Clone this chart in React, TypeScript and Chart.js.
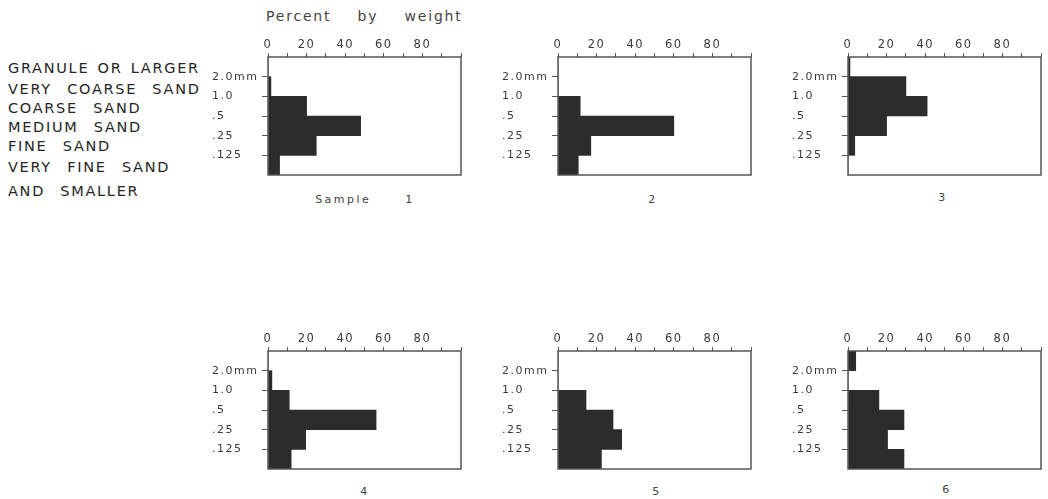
import React, { useEffect, useRef } from 'react';
import { Chart, registerables } from 'chart.js';

Chart.register(...registerables);

// ---- data ----
const sizeClasses = [
  'GRANULE OR LARGER',
  'VERY COARSE SAND',
  'COARSE SAND',
  'MEDIUM SAND',
  'FINE SAND',
  'VERY FINE SAND AND SMALLER',
];
const boundaryLabels = ['2.0mm', '1.0', '.5', '.25', '.125'];
const xTickLabels = [0, 20, 40, 60, 80];
const sampleNames = ['Sample 1', '2', '3', '4', '5', '6'];

const sample1 = [0, 1.5, 20, 48, 25, 6];
const sample2 = [0, 0, 11.5, 60, 17, 10.5];
const sample3 = [1, 30, 41, 20, 3.5, 0];
const sample4 = [0, 2, 11, 56, 19.5, 12];
const sample5 = [0, 0, 14.5, 28.5, 33, 22.5];
const sample6 = [4, 0, 16, 29, 20.5, 29];
const samples = [sample1, sample2, sample3, sample4, sample5, sample6];

// ---- layout ----
const BOX_W = 193;
const BOX_H = 118;
const AXW = 56;
const AXH = 24;
const PADR = 4;
const PADB = 3;
const boxLefts = [268, 558, 848, 268, 558, 848];
const boxTops = [57, 57, 57, 351, 351, 351];

const FONT = '"DejaVu Sans", "Liberation Sans", sans-serif';
const INK = '#3a3a3a';
const BAR = '#2c2c2c';

const boxPlugin = {
  id: 'boxPlugin',
  beforeDraw(chart: any) {
    (chart.ctx as any).letterSpacing = '1.5px';
  },
  afterDatasetsDraw(chart: any) {
    const { ctx, chartArea } = chart;
    ctx.save();
    ctx.strokeStyle = '#555';
    ctx.lineWidth = 1.5;
    ctx.strokeRect(chartArea.left, chartArea.top, chartArea.right - chartArea.left, chartArea.bottom - chartArea.top);
    ctx.restore();
  },
};

const zeroPad = (s: any) => {
  s.paddingTop = 0;
  s.paddingBottom = 0;
  s.paddingLeft = 0;
  s.paddingRight = 0;
};

function Panel({ values, left, top }: { values: number[]; left: number; top: number }) {
  const ref = useRef<HTMLCanvasElement>(null);
  useEffect(() => {
    const chart = new Chart(ref.current as HTMLCanvasElement, {
      type: 'bar',
      data: {
        labels: sizeClasses,
        datasets: [
          {
            data: values,
            backgroundColor: BAR,
            borderWidth: 0,
            categoryPercentage: 1,
            barPercentage: 1,
          } as any,
        ],
      },
      options: {
        indexAxis: 'y',
        responsive: false,
        animation: false,
        devicePixelRatio: 1,
        layout: { padding: { left: 0, top: 0, right: PADR, bottom: PADB } },
        plugins: {
          legend: { display: false },
          tooltip: { enabled: false },
          title: { display: false },
        },
        scales: {
          x: {
            type: 'linear',
            position: 'top',
            min: 0,
            max: 100,
            offset: false,
            border: { display: false },
            grid: { offset: false, drawOnChartArea: false, drawTicks: true, tickLength: 4, color: '#555', lineWidth: 1 },
            ticks: {
              stepSize: 10,
              autoSkip: false,
              maxRotation: 0,
              padding: 1,
              color: INK,
              font: { family: FONT, size: 11.5 },
              callback: (v: any) => (xTickLabels.includes(Number(v)) ? String(v) : ''),
            },
            afterFit: (s: any) => {
              s.height = AXH;
              zeroPad(s);
            },
          },
          y: { type: 'category', display: false, offset: true },
          yb: {
            type: 'linear',
            position: 'left',
            min: 0,
            max: 6,
            reverse: true,
            offset: false,
            border: { display: false },
            grid: { offset: false, drawOnChartArea: false, drawTicks: true, tickLength: 6, color: '#555', lineWidth: 1 },
            afterBuildTicks: (s: any) => {
              s.ticks = boundaryLabels.map((_, i) => ({ value: i + 1 }));
            },
            ticks: {
              crossAlign: 'far',
              autoSkip: false,
              padding: 2,
              color: INK,
              font: { family: FONT, size: 11 },
              callback: (v: any) => boundaryLabels[Number(v) - 1] ?? '',
            },
            afterFit: (s: any) => {
              s.width = AXW;
              zeroPad(s);
            },
          },
        },
      } as any,
      plugins: [boxPlugin],
    });
    return () => chart.destroy();
  }, []);
  return (
    <canvas
      ref={ref}
      width={AXW + BOX_W + PADR}
      height={AXH + BOX_H + PADB}
      style={{ position: 'absolute', left: left - AXW, top: top - AXH }}
    />
  );
}

const leftLabelLines = [
  { text: 'GRANULE OR LARGER', y: 68, ws: 2 },
  { text: 'VERY COARSE SAND', y: 89, ws: 9 },
  { text: 'COARSE SAND', y: 108, ws: 9 },
  { text: 'MEDIUM SAND', y: 127, ws: 9 },
  { text: 'FINE SAND', y: 146, ws: 9 },
  { text: 'VERY FINE SAND', y: 167, ws: 9 },
  { text: 'AND SMALLER', y: 191, ws: 9 },
];

const captionPos = [
  { x: 365, y: 200 },
  { x: 653, y: 200 },
  { x: 943, y: 198 },
  { x: 365, y: 492 },
  { x: 657, y: 492 },
  { x: 947, y: 490 },
];

export default function App() {
  return (
    <div
      style={{
        position: 'absolute',
        left: 0,
        top: 0,
        width: 1048,
        height: 499,
        background: '#fff',
        overflow: 'hidden',
        fontFamily: FONT,
        color: INK,
      }}
    >
      <div
        style={{
          position: 'absolute',
          left: 266,
          top: 8,
          fontSize: 14,
          lineHeight: '16px',
          letterSpacing: '1.8px',
          wordSpacing: '20px',
          whiteSpace: 'nowrap',
          color: '#444',
        }}
      >
        Percent by weight
      </div>
      {leftLabelLines.map((l, i) => (
        <div
          key={i}
          style={{
            position: 'absolute',
            left: 8,
            top: l.y - 9,
            fontSize: 14.5,
            lineHeight: '18px',
            letterSpacing: '1.7px',
            wordSpacing: `${l.ws}px`,
            whiteSpace: 'nowrap',
            color: '#262626',
          }}
        >
          {l.text}
        </div>
      ))}
      {samples.map((vals, i) => (
        <Panel key={i} values={vals} left={boxLefts[i]} top={boxTops[i]} />
      ))}
      {sampleNames.map((name, i) => (
        <div
          key={'c' + i}
          style={{
            position: 'absolute',
            left: captionPos[i].x - 100,
            width: 200,
            top: captionPos[i].y - 8,
            textAlign: 'center',
            fontSize: 11,
            lineHeight: '16px',
            letterSpacing: '2.5px',
            wordSpacing: '28px',
            whiteSpace: 'nowrap',
            color: '#444',
          }}
        >
          {name}
        </div>
      ))}
    </div>
  );
}
